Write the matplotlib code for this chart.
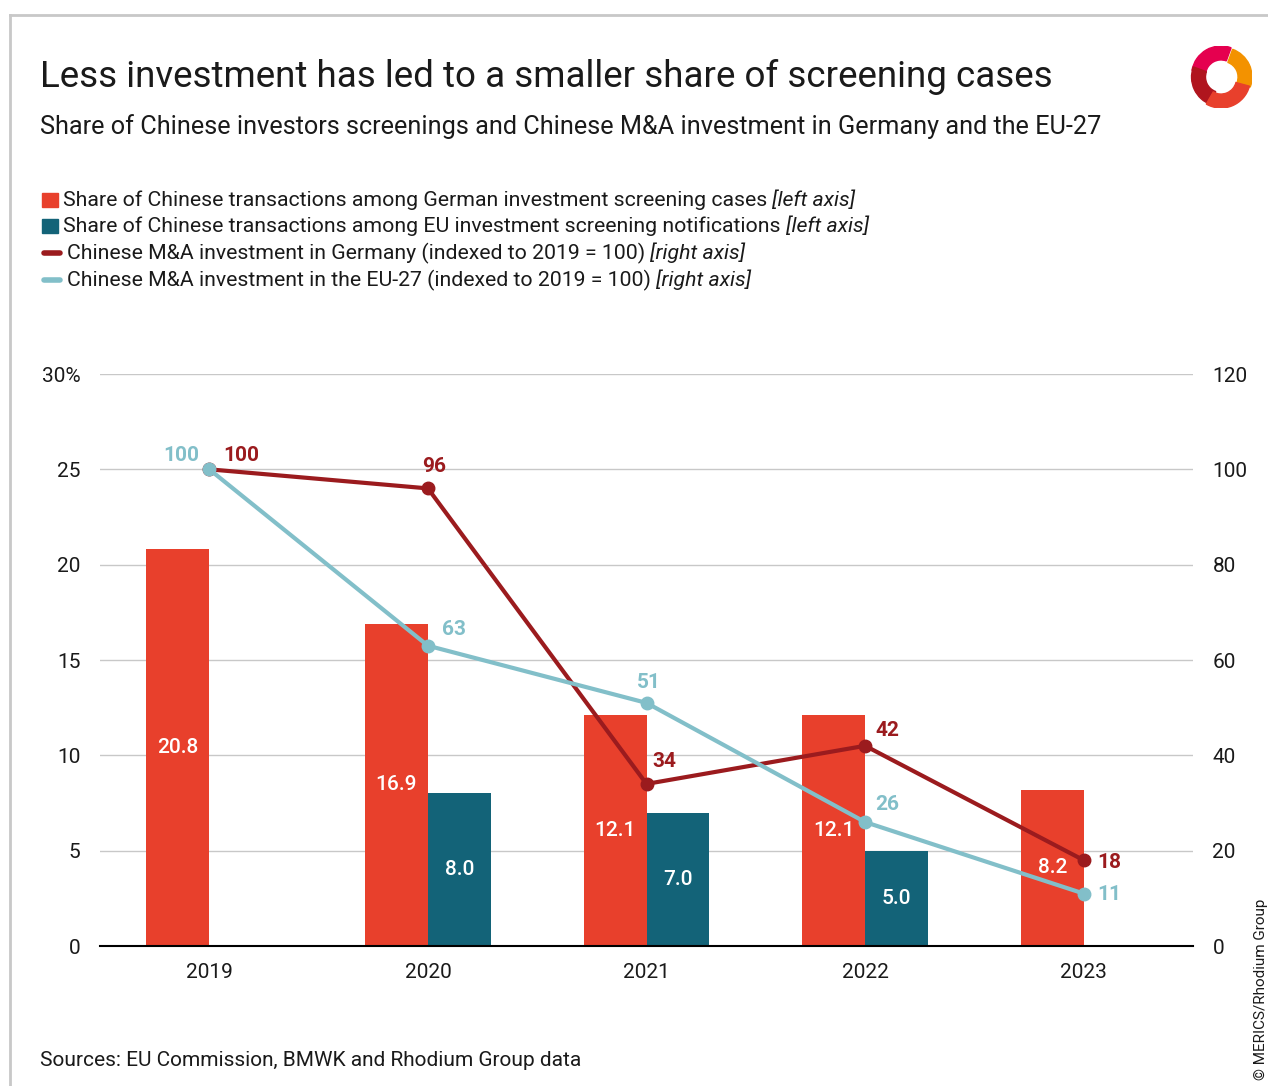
import matplotlib
matplotlib.use("Agg")
import matplotlib.pyplot as plt
import numpy as np
from matplotlib.patches import Rectangle, Wedge
from matplotlib.lines import Line2D

years = ["2019", "2020", "2021", "2022", "2023"]
de_share = [20.8, 16.9, 12.1, 12.1, 8.2]
eu_share = [None, 8.0, 7.0, 5.0, None]
de_ma = [100, 96, 34, 42, 18]
eu_ma = [100, 63, 51, 26, 11]
left_ticks = [0, 5, 10, 15, 20, 25, 30]
left_labels = ["0", "5", "10", "15", "20", "25", "30%"]
right_ticks = [0, 20, 40, 60, 80, 100, 120]

RED = "#E8402C"
TEAL = "#136378"
DRED = "#9B1B1E"
LBLUE = "#82BFC9"
TXT = "#1a1a1a"
FONT = "Roboto"

plt.rcParams['font.family'] = [FONT, 'DejaVu Sans']

W, H = 1268, 1086
fig = plt.figure(figsize=(W / 100, H / 100), dpi=100)

def fx(px):
    return px / W

def fy(py):
    return 1 - py / H

# border
fig.add_artist(Line2D([fx(10), fx(1268)], [fy(15), fy(15)], color="#c8c8c8", lw=2))
fig.add_artist(Line2D([fx(10), fx(10)], [fy(15), fy(1086)], color="#c8c8c8", lw=2))

ax = fig.add_axes([fx(100), fy(946), fx(1193) - fx(100), fy(374) - fy(946)])
ax2 = ax.twinx()

x = np.arange(len(years))
bw = 0.288
ax.bar(x - bw / 2, de_share, width=bw, color=RED, zorder=2)
eu_x = [xi for xi, v in zip(x, eu_share) if v is not None]
eu_v = [v for v in eu_share if v is not None]
ax.bar(np.array(eu_x) + bw / 2, eu_v, width=bw, color=TEAL, zorder=2)

for xi, v in zip(x, de_share):
    ax.text(xi - bw / 2, v / 2, f"{v:.1f}", ha="center", va="center", color="white",
            fontsize=15, fontweight="medium")
for xi, v in zip(eu_x, eu_v):
    ax.text(xi + bw / 2, v / 2, f"{v:.1f}", ha="center", va="center", color="white",
            fontsize=15, fontweight="medium")

ax.set_xlim(-0.5, 4.5)
ax.set_ylim(0, 30)
ax.set_yticks(left_ticks)
ax.set_yticklabels(left_labels)
ax.set_xticks(x)
ax.set_xticklabels(years)
ax.grid(axis="y", color="#c8c8c8", lw=1, zorder=0)
ax.set_axisbelow(True)
for s in ["top", "right", "left"]:
    ax.spines[s].set_visible(False)
ax.spines["bottom"].set_color("black")
ax.spines["bottom"].set_linewidth(1.5)
ax.spines["bottom"].set_zorder(5)
ax.tick_params(axis="y", length=0, pad=14, labelsize=15, labelcolor=TXT)
ax.tick_params(axis="x", length=0, pad=12, labelsize=15, labelcolor=TXT)

ax2.set_ylim(0, 120)
ax2.set_yticks(right_ticks)
for s in ["top", "right", "left", "bottom"]:
    ax2.spines[s].set_visible(False)
ax2.tick_params(axis="y", length=0, pad=14, labelsize=15, labelcolor=TXT)

ax2.plot(x, de_ma, color=DRED, lw=3, marker="o", ms=9, zorder=3, clip_on=False)
ax2.plot(x, eu_ma, color=LBLUE, lw=3, marker="o", ms=9, zorder=4, clip_on=False)

# point labels: (offset x px, offset y px, ha)
de_off = [(14, 14, "left"), (6, 22, "center"), (6, 22, "left"), (10, 15, "left"), (14, -2, "left")]
eu_off = [(-10, 14, "right"), (14, 16, "left"), (2, 20, "center"), (10, 18, "left"), (14, -1, "left")]
for xi, v, (dx, dy, ha) in zip(x, de_ma, de_off):
    ax2.annotate(str(v), (xi, v), xytext=(dx * 0.72, dy * 0.72), textcoords="offset points",
                 ha=ha, va="center", color=DRED, fontsize=15, fontweight="bold", zorder=6)
for xi, v, (dx, dy, ha) in zip(x, eu_ma, eu_off):
    ax2.annotate(str(v), (xi, v), xytext=(dx * 0.72, dy * 0.72), textcoords="offset points",
                 ha=ha, va="center", color=LBLUE, fontsize=15, fontweight="bold", zorder=6)

# titles
fig.text(fx(40), fy(77), "Less investment has led to a smaller share of screening cases",
         fontsize=26.5, color=TXT, va="center", ha="left")
fig.text(fx(40), fy(127), "Share of Chinese investors screenings and Chinese M&A investment in Germany and the EU-27",
         fontsize=18.2, color=TXT, va="center", ha="left")

# legend
legend_items = [
    ("bar", RED, "Share of Chinese transactions among German investment screening cases", "[left axis]", 200),
    ("bar", TEAL, "Share of Chinese transactions among EU investment screening notifications", "[left axis]", 226),
    ("line", DRED, "Chinese M&A investment in Germany (indexed to 2019 = 100)", "[right axis]", 253),
    ("line", LBLUE, "Chinese M&A investment in the EU-27 (indexed to 2019 = 100)", "[right axis]", 280),
]
fig.canvas.draw()
renderer = fig.canvas.get_renderer()
for kind, col, txt, ital, py in legend_items:
    if kind == "bar":
        fig.add_artist(Rectangle((fx(42), fy(py + 7)), fx(16), fy(py - 7) - fy(py + 7),
                                 color=col, transform=fig.transFigure))
        tx = 63
    else:
        fig.add_artist(Line2D([fx(44), fx(60)], [fy(py), fy(py)], color=col, lw=4,
                              solid_capstyle="round"))
        tx = 67
    t = fig.text(fx(tx), fy(py), txt + " ", fontsize=15.3, color=TXT, va="center", ha="left")
    bb = t.get_window_extent(renderer)
    fig.text(bb.x1 / W, fy(py), ital, fontsize=15.3, color=TXT, va="center", ha="left",
             style="italic")

fig.text(fx(40), fy(1060), "Sources: EU Commission, BMWK and Rhodium Group data",
         fontsize=15, color=TXT, va="center", ha="left")
fig.text(fx(1261), fy(1080), "© MERICS/Rhodium Group", fontsize=11, rotation=90,
         color=TXT, va="bottom", ha="center")

# logo (approximation)
lax = fig.add_axes([fx(1190), fy(108), fx(1252) - fx(1190), fy(46) - fy(108)])
lax.set_xlim(-1, 1)
lax.set_ylim(-1, 1)
lax.set_aspect("equal")
lax.axis("off")
lax.add_patch(Wedge((0.05, 0.0), 0.95, -20, 70, width=0.45, color="#F39200"))
lax.add_patch(Wedge((0.0, 0.05), 0.95, 70, 170, width=0.45, color="#E5004F"))
lax.add_patch(Wedge((0.0, 0.0), 0.95, 160, 250, width=0.45, color="#B0151E"))
lax.add_patch(Wedge((0.0, -0.05), 0.95, 240, 345, width=0.45, color="#E8402C"))

fig.savefig("out.png", dpi=100)
